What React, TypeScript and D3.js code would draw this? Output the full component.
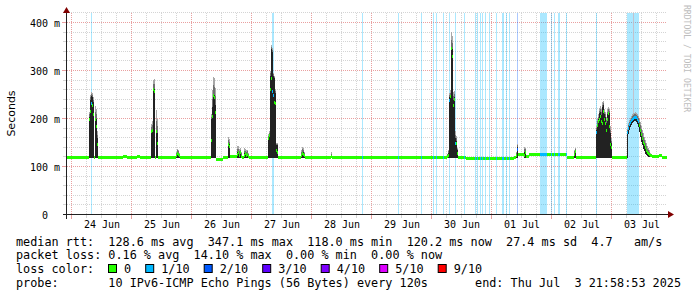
import React from 'react';
import * as d3 from 'd3';

// ---- data (hours since 24 Jun 2025 00:00, values in ms) ----
const sampleHour = [
  -2.02, 6.8, 7.2, 7.6, 8.0, 8.4, 8.8, 9.2, 9.6, 10.0, 10.4, 16.4, 20.4, 22.0, 26.0, 27.2,
  31.6, 32.0, 32.4, 32.8, 33.2, 33.6, 34.0, 34.4, 41.6, 42.0, 42.4, 42.8, 43.2,
  55.6, 56.0, 56.4, 56.8, 57.2, 57.6, 60.4, 62.4, 62.8, 63.2,
  66.0, 66.4, 66.8, 67.2, 67.6, 68.0, 68.8, 69.2, 69.6, 70.0, 70.4, 70.8,
  78.4, 78.8, 79.2, 79.6, 80.0, 80.4, 80.8, 81.2, 81.6, 82.0, 82.4,
  91.6, 92.0, 92.4, 92.8, 93.2, 103.6, 104.0,
  150.0, 150.4, 150.8, 151.2, 151.6, 152.0, 152.4, 152.8, 153.2, 153.6, 154.0, 154.4,
  157.6, 176.8, 177.6, 178.0, 178.4, 180.8, 181.2, 181.6, 182.8, 198.0, 200.8, 201.2, 201.6,
  209.6, 210.0, 210.4, 210.8, 211.2, 211.6, 212.0, 212.4, 212.8, 213.2, 213.6, 214.0, 214.4, 214.8, 215.2, 215.6, 216.0,
  222.0, 222.4, 222.8, 223.2, 223.6, 224.0, 224.4, 224.8, 225.2, 225.6, 226.0, 226.4, 226.8, 227.2, 227.6,
  228.0, 228.4, 228.8, 229.2, 229.6, 230.0, 230.4, 230.8, 231.2, 231.6, 232.0, 234.8, 236.0,
];
const medianMs = [
  119, 200, 215, 232, 228, 210, 119, 198, 185, 146, 119, 120, 121, 119, 122, 119,
  175, 176, 262, 258, 119, 173, 150, 119, 125, 129, 127, 124, 119,
  156, 205, 250, 245, 214, 116, 120, 146, 142, 121,
  127, 131, 124, 130, 122, 119, 125, 128, 124, 126, 122, 119,
  160, 165, 262, 285, 258, 250, 235, 232, 135, 131, 119,
  124, 129, 127, 123, 119, 121, 119,
  121, 125, 238, 246, 347, 330, 229, 240, 150, 150, 129, 119,
  117.5, 120, 123, 136, 127, 124, 130, 121, 127, 120, 126, 132, 119,
  172, 187, 195, 198, 205, 195, 191, 215, 200, 191, 177, 200, 212, 184, 146, 140, 119,
  171, 180, 188, 192, 196, 200, 202, 204, 204, 203, 200, 195, 186, 177, 168,
  160, 152, 146, 140, 135, 131, 129, 127, 125, 123, 121, 123, 120.2,
];
const smokeLowMs = [
  119, 119, 119, 119, 119, 119, 119, 119, 119, 119, 119, 120, 119, 119, 119, 119,
  119, 119, 119, 119, 119, 119, 119, 119, 119, 119, 119, 119, 119,
  119, 119, 119, 119, 119, 116, 120, 119, 119, 121,
  119, 119, 119, 119, 119, 119, 119, 119, 119, 119, 119, 119,
  119, 119, 119, 119, 119, 119, 119, 119, 119, 119, 119,
  119, 119, 119, 119, 119, 119, 119,
  119, 119, 119, 119, 119, 119, 119, 119, 119, 119, 119, 119,
  117.5, 120, 119, 119, 125, 119, 119, 121, 125, 120, 119, 119, 119,
  119, 119, 119, 119, 119, 119, 119, 119, 119, 119, 119, 119, 119, 119, 119, 119, 119,
  119, 168, 178, 183, 187, 191, 193, 195, 195, 194, 190, 184, 172, 162, 153,
  145, 138, 133, 128, 125, 123, 121, 120, 120, 120, 121, 120, 120.2,
];
const smokeDarkMs = [
  119, 205, 240, 248, 245, 235, 119, 202, 200, 160, 119, 120, 121, 119, 122, 119,
  177, 178, 263, 262, 119, 174, 170, 119, 127, 131, 130, 126, 119,
  200, 225, 252, 250, 230, 116, 120, 150, 148, 121,
  131, 133, 128, 132, 126, 119, 129, 130, 127, 129, 125, 119,
  163, 168, 290, 345, 340, 290, 285, 255, 145, 145, 119,
  127, 131, 131, 126, 119, 122, 119,
  125, 130, 246, 250, 348, 345, 240, 245, 160, 155, 135, 119,
  117.5, 120, 128, 142, 127, 131, 133, 121, 127, 120, 130, 135, 119,
  177, 190, 200, 212, 215, 208, 225, 229, 210, 204, 192, 210, 215, 212, 171, 150, 119,
  175, 183, 190, 194, 198, 202, 204, 206, 206, 205, 202, 198, 189, 180, 171,
  163, 155, 149, 143, 137, 133, 130, 128, 126, 124, 121, 124, 120.2,
];
const smokeHighMs = [
  119, 215, 250, 256, 255, 245, 119, 228, 220, 175, 119, 120, 123, 119, 124, 119,
  190, 195, 281, 283, 119, 219, 200, 119, 132, 138, 136, 130, 119,
  210, 260, 288, 285, 265, 116, 120, 162, 158, 121,
  143, 143, 138, 140, 132, 119, 139, 137, 135, 136, 130, 119,
  168, 175, 300, 355, 348, 296, 290, 262, 150, 150, 119,
  135, 142, 140, 132, 119, 132, 119,
  128, 135, 255, 260, 381, 372, 256, 258, 175, 165, 140, 119,
  117.5, 120, 132, 148, 129, 142, 140, 124, 129, 120, 136, 140, 119,
  185, 200, 210, 222, 228, 220, 235, 238, 220, 215, 205, 220, 225, 220, 185, 160, 119,
  180, 192, 198, 203, 207, 210, 212, 213, 214, 212, 210, 207, 200, 193, 186,
  178, 170, 163, 156, 149, 144, 139, 135, 130, 126, 121, 128, 120.2,
];

// loss: start hour, number of 24-minute columns, loss in tenths
const lossStartHour = [7.6, 80.0, 116.0, 130.4, 139.6, 144.4, 145.6, 148.4, 150.8, 153.2, 156.8,
  161.2, 162.0, 163.2, 164.0, 165.2, 166.8, 169.6, 172.0, 173.6, 174.8, 178.0, 187.2,
  191.6, 192.8, 194.4, 197.6, 209.6, 222.0];
const lossColumns = [1, 2, 1, 1, 1, 1, 1, 1, 1, 1, 1,
  1, 1, 1, 1, 1, 1, 1, 2, 1, 1, 1, 7,
  1, 1, 2, 1, 1, 12];
const lossLevel = [1, 1, 1, 1, 1, 1, 1, 1, 1, 1, 1,
  1, 1, 1, 1, 1, 1, 1, 1, 1, 1, 2, 1,
  1, 1, 1, 1, 1, 1];

const outlierHour = [224.4];
const outlierMs = [420];

const yTickValues = [0, 100, 200, 300, 400];
const yTickLabels = ['  0  ', '100 m', '200 m', '300 m', '400 m'];
const lossLegendLabels = ['0', '1/10', '2/10', '3/10', '4/10', '5/10', '9/10'];
const lossColors = ['#26ff00', '#00b8ff', '#0059ff', '#5e00ff', '#7e00ff', '#dd00ff', '#ff0000'];
const legendLine1 = 'median rtt:  128.6 ms avg  347.1 ms max  118.0 ms min  120.2 ms now  27.4 ms sd  4.7   am/s';
const legendLine2 = 'packet loss: 0.16 % avg  14.10 % max  0.00 % min  0.00 % now';
const legendLine4 = 'probe:       10 IPv6-ICMP Echo Pings (56 Bytes) every 120s';
const legendEnd = 'end: Thu Jul  3 21:58:53 2025';

const MONO = "'DejaVu Sans Mono', monospace";
const SANS = "'DejaVu Sans', sans-serif";
const pre = (s: string) => s.replace(/ /g, '\u00a0');

export default function App() {
  const start = new Date(2025, 5, 23, 21, 58, 53);
  const end = new Date(2025, 6, 3, 21, 58, 53);
  const base = new Date(2025, 5, 24, 0, 0, 0).getTime();
  const toDate = (h: number) => new Date(base + h * 3600000);

  const x = d3.scaleTime().domain([start, end]).range([67, 667]);
  const y = d3.scaleLinear().domain([0, 420]).range([215, 13.4]);
  const px = (d: Date) => Math.round(x(d)) - 0.5;
  const py = (v: number) => Math.round(y(v)) - 0.5;

  const samples = sampleHour.map((h, i) => ({
    x0: x(i === 0 ? start : toDate(h)),
    x1: x(i < sampleHour.length - 1 ? toDate(sampleHour[i + 1]) : end),
    med: medianMs[i], lo: smokeLowMs[i], dark: smokeDarkMs[i], hi: smokeHighMs[i],
  }));

  const findSample = (h: number) => {
    let idx = 0;
    for (let i = 0; i < sampleHour.length; i++) if (sampleHour[i] <= h + 1e-6) idx = i;
    return idx;
  };

  const step = 0.4;
  const lossCols: { h: number; level: number }[] = [];
  lossStartHour.forEach((h, i) => {
    for (let c = 0; c < lossColumns[i]; c++) lossCols.push({ h: h + c * step, level: lossLevel[i] });
  });

  const minorV = d3.timeHour.every(6)!.range(start, end).filter((d) => d.getHours() !== 0);
  const majorV = d3.timeDay.range(start, end);
  const minorH = d3.range(20, 421, 20).filter((v) => v % 100 !== 0);
  const majorH = [100, 200, 300, 400];
  const dayFmt = d3.timeFormat('%d %b');

  const gridGray = '#d4d4d4';
  const gridRed = '#e9a0a0';

  let lx = 108.5;
  const legendItems = lossLegendLabels.map((lab, i) => {
    const item = { sx: lx, tx: lx + 15.5, lab, color: lossColors[i] };
    lx = item.tx + lab.length * 7.1 + 14.6;
    return item;
  });

  return (
    <svg width={697} height={297} style={{ position: 'absolute', left: 0, top: 0, background: '#fff' }}>
      <rect x={0} y={0} width={697} height={297} fill="#ffffff" />
      {/* grid */}
      <g shapeRendering="crispEdges" strokeDasharray="1,1">
        {minorV.map((d, i) => (
          <line key={'mv' + i} x1={px(d)} x2={px(d)} y1={y(420)} y2={215} stroke={gridGray} />
        ))}
        {minorH.map((v) => (
          <line key={'mh' + v} x1={67} x2={667} y1={py(v)} y2={py(v)} stroke={gridGray} />
        ))}
        {majorV.map((d, i) => (
          <line key={'Mv' + i} x1={px(d)} x2={px(d)} y1={y(420)} y2={215} stroke={gridRed} />
        ))}
        {majorH.map((v) => (
          <line key={'Mh' + v} x1={67} x2={667} y1={py(v)} y2={py(v)} stroke={gridRed} />
        ))}
      </g>
      {/* loss background */}
      <g shapeRendering="crispEdges">
        {lossCols.map((c, i) => (
          <rect key={'lb' + i} x={x(toDate(c.h))} width={x(toDate(c.h + step)) - x(toDate(c.h))}
            y={y(420)} height={215 - y(420)} fill={lossColors[c.level]} fillOpacity={0.33} />
        ))}
      </g>
      {/* smoke */}
      <g shapeRendering="crispEdges">
        {outlierHour.map((h, i) => {
          const s = samples[findSample(h)];
          return (
            <rect key={'ol' + i} x={x(toDate(h))} width={x(toDate(h + step)) - x(toDate(h))}
              y={y(outlierMs[i])} height={y(s.hi) - y(outlierMs[i])} fill="#c8b8c0" fillOpacity={0.8} />
          );
        })}
        {samples.filter((s) => s.hi > s.lo).map((s, i) => (
          <g key={'sm' + i}>
            <rect x={s.x0} width={s.x1 - s.x0} y={y(s.hi)} height={Math.max(0, y(s.dark) - y(s.hi))} fill="#a8a8a8" />
            <rect x={s.x0} width={s.x1 - s.x0} y={y((s.hi + s.dark) / 2)} height={Math.max(0, y(s.dark) - y((s.hi + s.dark) / 2))} fill="#6e6e6e" />
            <rect x={s.x0} width={s.x1 - s.x0} y={y(s.dark)} height={Math.max(0, y(s.lo) - y(s.dark))} fill="#222222" />
          </g>
        ))}
      </g>
      {/* median */}
      <g shapeRendering="crispEdges">
        {samples.map((s, i) => (
          <rect key={'md' + i} x={s.x0} width={s.x1 - s.x0} y={y(s.med) - 1.5} height={3} fill={lossColors[0]} />
        ))}
        {lossCols.map((c, i) => {
          const s = samples[findSample(c.h + 0.01)];
          return (
            <rect key={'ml' + i} x={x(toDate(c.h))} width={x(toDate(c.h + step)) - x(toDate(c.h))}
              y={y(s.med) - 1.5} height={3} fill={lossColors[c.level]} />
          );
        })}
      </g>
      {/* axis ticks */}
      <g shapeRendering="crispEdges">
        {minorV.map((d, i) => (
          <line key={'tv' + i} x1={px(d)} x2={px(d)} y1={215} y2={218} stroke={gridGray} />
        ))}
        {majorV.map((d, i) => (
          <line key={'tV' + i} x1={px(d)} x2={px(d)} y1={215} y2={219} stroke={gridRed} />
        ))}
        {minorH.map((v) => (
          <line key={'th' + v} x1={63} x2={66} y1={py(v)} y2={py(v)} stroke={gridGray} />
        ))}
        {majorH.map((v) => (
          <line key={'tH' + v} x1={62} x2={66} y1={py(v)} y2={py(v)} stroke={gridRed} />
        ))}
        <line x1={63} x2={671} y1={py(0)} y2={py(0)} stroke="#212121" />
        <line x1={66.5} x2={66.5} y1={219} y2={11} stroke="#212121" />
      </g>
      <path d={`M668,${py(0) - 3.5} L674,${py(0)} L668,${py(0) + 3.5} Z`} fill="#800000" />
      <path d={`M63,13 L66.5,7 L70,13 Z`} fill="#800000" />
      {/* y tick labels */}
      {yTickValues.map((v, i) => (
        <text key={'yl' + v} x={30} y={y(v) + 3.6} fontFamily={MONO} fontSize={10} fill="#000">
          {pre(yTickLabels[i])}
        </text>
      ))}
      {/* x tick labels */}
      {majorV.map((d, i) => {
        const noon = new Date(d.getTime() + 12 * 3600000);
        return (
          <text key={'xl' + i} x={x(noon)} y={228} textAnchor="middle" fontFamily={MONO} fontSize={10} fill="#000">
            {pre(dayFmt(noon))}
          </text>
        );
      })}
      {/* axis title */}
      <text transform="translate(15,113.5) rotate(-90)" textAnchor="middle" fontFamily={SANS} fontSize={11} fill="#000">
        Seconds
      </text>
      {/* watermark */}
      <text transform="translate(684,5) rotate(90)" fontFamily={MONO} fontSize={8.1} fill="#bdbdbd">
        {pre('RRDTOOL / TOBI OETIKER')}
      </text>
      {/* legend */}
      <g fontFamily={MONO} fontSize={11.8} fill="#000">
        <text x={16} y={245.5}>{pre(legendLine1)}</text>
        <text x={16} y={259}>{pre(legendLine2)}</text>
        <text x={16} y={273}>{pre('loss color:')}</text>
        {legendItems.map((it) => (
          <g key={it.lab}>
            <rect x={it.sx} y={264.5} width={8} height={8} fill={it.color} stroke="#000" strokeWidth={1} />
            <text x={it.tx} y={273}>{it.lab}</text>
          </g>
        ))}
        <text x={16} y={286.7}>{pre(legendLine4)}</text>
        <text x={681} y={286.7} textAnchor="end">{pre(legendEnd)}</text>
      </g>
    </svg>
  );
}
